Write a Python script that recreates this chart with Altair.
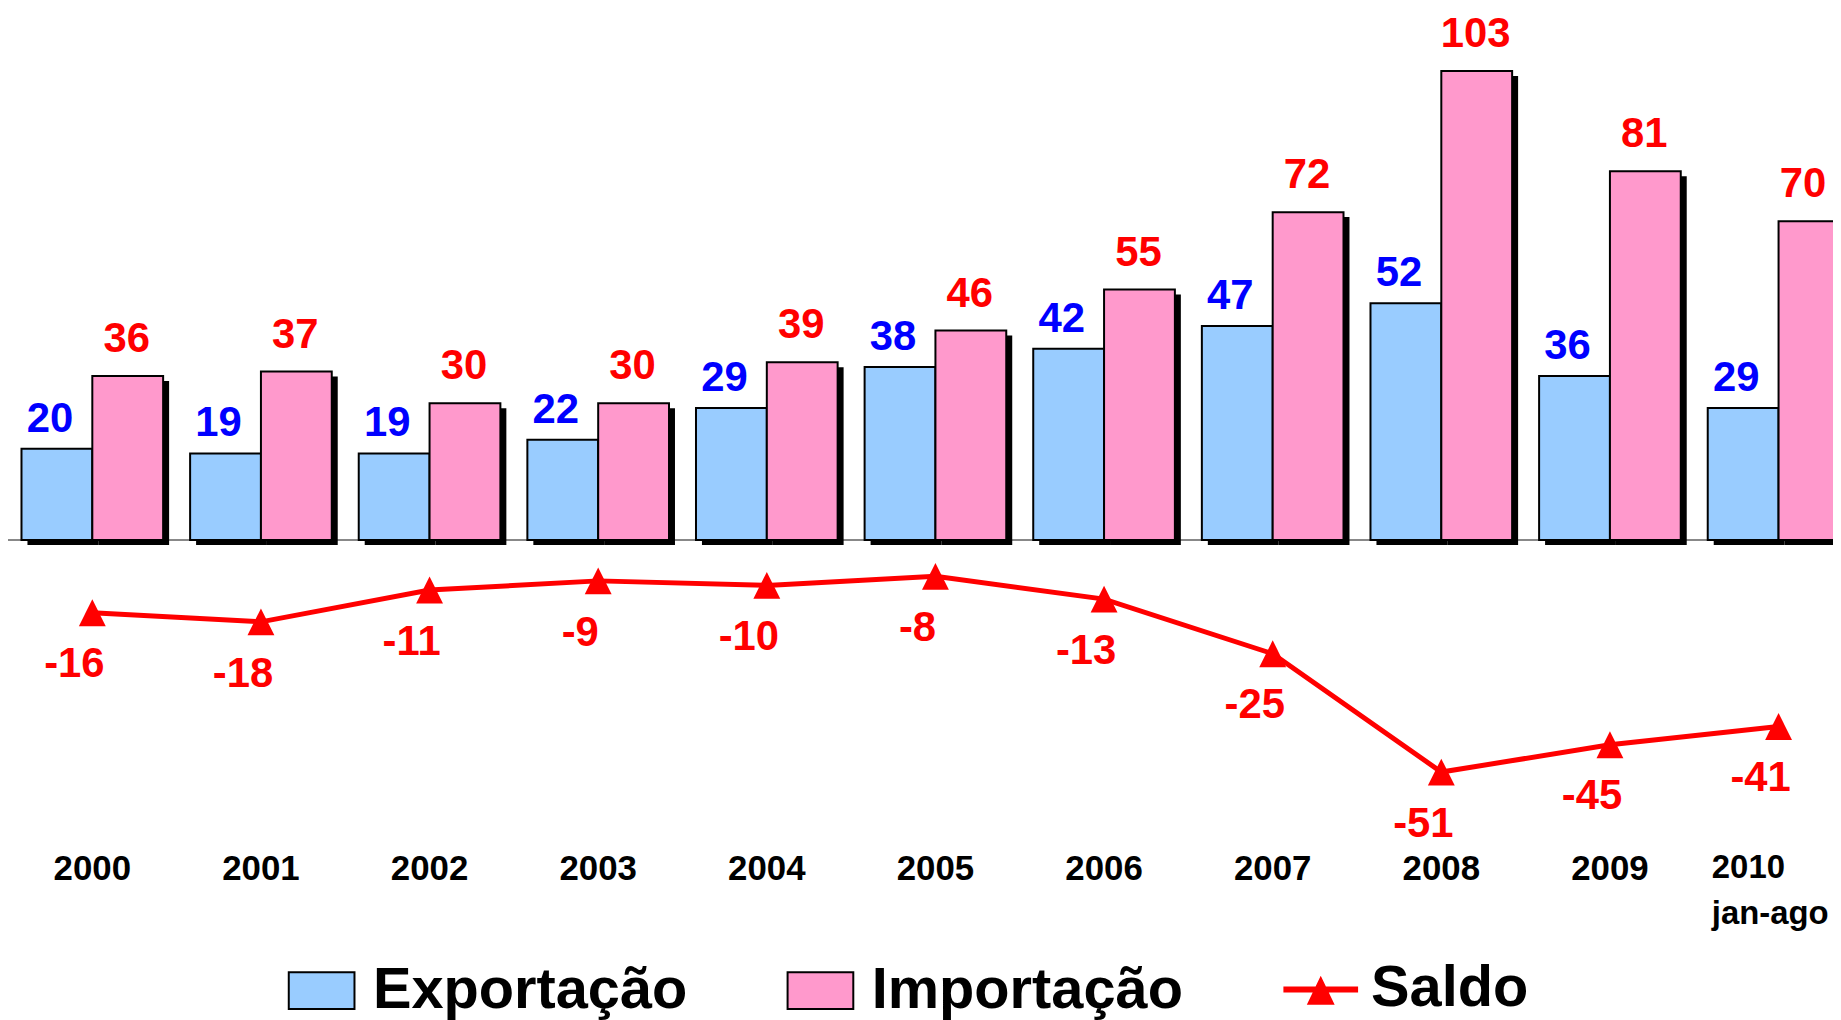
import altair as alt
import pandas as pd

anos = ["2000", "2001", "2002", "2003", "2004", "2005", "2006", "2007", "2008", "2009", "2010"]
exportacao = [20, 19, 19, 22, 29, 38, 42, 47, 52, 36, 29]
importacao = [36, 37, 30, 30, 39, 46, 55, 72, 103, 81, 70]
saldo = [-16, -18, -11, -9, -10, -8, -13, -25, -51, -45, -41]
series = ["Exportação", "Importação", "Saldo"]
cores = ["#99CCFF", "#FF99CC", "#FF0000"]
rotulo_extra = "jan-ago"

FONT = "Liberation Sans"

barras = pd.DataFrame(
    {"ano": anos * 2,
     "serie": [series[0]] * len(anos) + [series[1]] * len(anos),
     "valor": exportacao + importacao}
)
linha = pd.DataFrame({"ano": anos, "valor": saldo, "serie": [series[2]] * len(anos)})

BOX = "M-0.88,-0.493L0.88,-0.493L0.88,0.493L-0.88,0.493Z"
SALDO_SYM = "M-1,-0.08L1,-0.08L1,0.08L-1,0.08Z M0,-0.365L0.373,0.41L-0.373,0.41Z"
TRI = "M0,-1L1,1L-1,1Z"

X_RANGE = 1863
P_IN, P_OUT = 0.16, 0.08
step = X_RANGE / (len(anos) - P_IN + 2 * P_OUT)
quarter = step * (1 - P_IN) / 4  # distance from group centre to each bar centre
SH_DX, SH_DY_TOP, SH_DY_BOT = 6, 5, 3

last = anos[-1]
is_last = f"datum.value == '{last}'"
x_enc = alt.X(
    "ano:N",
    sort=anos,
    scale=alt.Scale(range=[0, X_RANGE], paddingInner=P_IN, paddingOuter=P_OUT),
    axis=alt.Axis(
        title=None, domain=False, ticks=False, grid=False, labelAngle=0,
        labelFont=FONT, labelFontWeight="bold", labelColor="black",
        labelFontSize={"condition": {"test": is_last, "value": 33}, "value": 35},
        labelPadding=30, labelLineHeight=46, labelOverlap=False, labelBound=False,
        labelExpr=f"{is_last} ? ['{last}', '{rotulo_extra}'] : datum.value",
        labelAlign={"condition": {"test": is_last, "value": "left"}, "value": "center"},
        labelOffset={"condition": {"test": is_last, "value": -67}, "value": 0},
    ),
)
y_scale = alt.Scale(domain=[-62, 116.36], nice=False, zero=False)
y_enc = alt.Y("valor:Q", scale=y_scale, axis=None)
xo_enc = alt.XOffset("serie:N", sort=series[:2],
                     scale=alt.Scale(domain=series[:2], paddingInner=0, paddingOuter=0))

leg_common = dict(
    title=None, orient="none", legendY=946, direction="horizontal",
    padding=0, labelFont=FONT, labelFontSize=58, labelFontWeight="bold", labelColor="black",
    labelOffset=13, symbolSize=5625, symbolOpacity=1, labelLimit=0,
)
legend_bars = alt.Legend(legendX=276.5, columnPadding=95, symbolType=BOX,
                         symbolStrokeColor="black", symbolStrokeWidth=2, **leg_common)
legend_saldo = alt.Legend(legendX=1281, symbolType=SALDO_SYM, symbolStrokeWidth=0,
                          symbolFillColor="#FF0000", **leg_common)

zero = alt.Chart(barras).mark_rule(color="#888888", strokeWidth=1.5).encode(
    y=alt.Y(datum=0, scale=y_scale, axis=None)
)

sombras = [
    alt.Chart(barras).transform_filter(alt.datum.serie == s).mark_bar(
        color="black", width=alt.RelativeBandSize(0.5),
        xOffset=sign * quarter + SH_DX, yOffset=SH_DY_TOP, y2Offset=SH_DY_BOT,
    ).encode(x=x_enc, y=y_enc)
    for s, sign in ((series[0], -1), (series[1], 1))
]

bars = alt.Chart(barras).mark_bar(stroke="black", strokeWidth=2, opacity=1).encode(
    x=x_enc, xOffset=xo_enc, y=y_enc,
    color=alt.Color("serie:N", scale=alt.Scale(domain=series[:2], range=cores[:2]), legend=legend_bars),
)

line = alt.Chart(linha).mark_line(color=cores[2], strokeWidth=5).encode(x=x_enc, y=y_enc)
pts = alt.Chart(linha).mark_point(shape=TRI, size=729, filled=True, color=cores[2]).encode(
    x=x_enc, y=y_enc,
    opacity=alt.Opacity("serie:O", scale=alt.Scale(domain=[series[2]], range=[1]), legend=legend_saldo),
)

txt_exp = alt.Chart(barras).transform_filter(alt.datum.serie == series[0]).transform_calculate(
    lbl="'' + datum.valor").mark_text(
    font=FONT, fontSize=42, fontWeight="bold", color="#0000FF", dy=-17, dx=-7, baseline="alphabetic"
).encode(x=x_enc, xOffset=xo_enc, y=y_enc, text="lbl:N")

txt_imp = alt.Chart(barras).transform_filter(alt.datum.serie == series[1]).transform_calculate(
    lbl="'' + datum.valor").mark_text(
    font=FONT, fontSize=42, fontWeight="bold", color="#FF0000", dy=-24,
    dx=alt.ExprRef(expr=f"datum.ano == '{last}' ? -11 : -1"), baseline="alphabetic"
).encode(x=x_enc, xOffset=xo_enc, y=y_enc, text="lbl:N")

txt_saldo = alt.Chart(linha).transform_calculate(lbl="'' + datum.valor").mark_text(
    font=FONT, fontSize=42, fontWeight="bold", color="#FF0000", dy=52, dx=-18, baseline="middle"
).encode(x=x_enc, y=y_enc, text="lbl:N")

chart = alt.layer(zero, *sombras, bars, line, pts, txt_exp, txt_imp, txt_saldo).properties(
    width=1833, height=815.5,
    autosize=alt.AutoSizeParams(type="none"),
    padding={"left": 0, "top": 0, "right": 0, "bottom": 196},
    background="white",
).configure_view(stroke=None)

chart.save("out.html", embed_options={"renderer": "svg", "actions": False})
